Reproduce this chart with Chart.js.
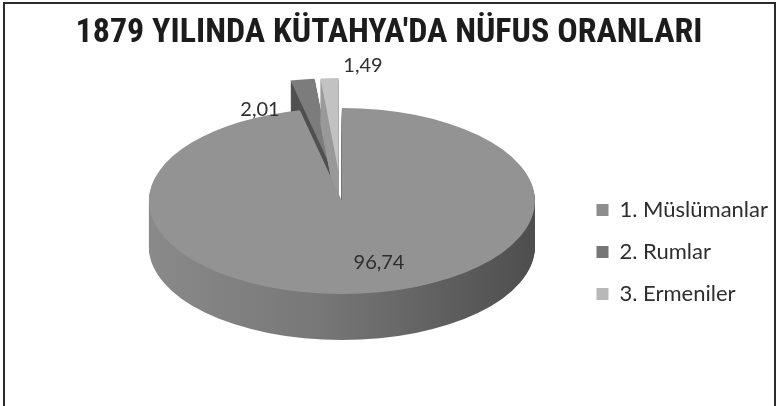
<!DOCTYPE html>
<html><head><meta charset="utf-8">
<script src="https://cdn.jsdelivr.net/npm/chart.js@4/dist/chart.umd.min.js"></script>
<style>html,body{margin:0;padding:0;background:#fff}#wrap{width:778px;height:406px;overflow:hidden}</style>
</head><body><div id="wrap"><canvas id="c" width="778" height="406"></canvas></div>
<script>
// ---- data ----
const titleText = "1879 YILINDA KÜTAHYA'DA NÜFUS ORANLARI";
const categories = ['1. Müslümanlar', '2. Rumlar', '3. Ermeniler'];
const values = [96.74, 2.01, 1.49];
const valueLabels = ['96,74', '2,01', '1,49'];

// ---- styles ----
const legendColors = ['#8d8d8d', '#767676', '#b8b8b8'];
const topColors = ['#939393', '#7c7c7c', '#c2c2c2'];
const sideColors = [null, '#505050', '#9a9a9a'];
const explodePx = [4, 26, 26];
const labelOffsets = [[38, 66], [-81, -87], [22, -131]];
const P3D = { cx: 341, cy: 197, rx: 193, ry: 93, depth: 46 };

function slicePath(ctx, a, i, tx, ty) {
  const mid = (a.startAngle + a.endAngle) / 2;
  const e = explodePx[i];
  const c = { x: P3D.cx + Math.cos(mid) * e * (P3D.rx / P3D.ry) + tx, y: P3D.cy + Math.sin(mid) * e + ty };
  ctx.beginPath();
  ctx.moveTo(c.x, c.y);
  ctx.ellipse(c.x, c.y, P3D.rx, P3D.ry, 0, a.startAngle, a.endAngle);
  ctx.closePath();
}

const pie3dPlugin = {
  id: 'pie3d',
  beforeDraw(chart) {
    const ctx = chart.ctx;
    ctx.save();
    ctx.strokeStyle = '#2b2b2b';
    ctx.lineWidth = 2;
    ctx.strokeRect(4, 3, 771, 430);
    ctx.restore();
  },
  beforeDatasetsDraw(chart) {
    const ctx = chart.ctx;
    const arcs = chart.getDatasetMeta(0).data;
    ctx.save();
    const grad = ctx.createLinearGradient(P3D.cx - P3D.rx, 0, P3D.cx + P3D.rx, 0);
    grad.addColorStop(0, '#8a8a8a');
    grad.addColorStop(0.45, '#777777');
    grad.addColorStop(1, '#4e4e4e');
    for (let t = P3D.depth; t >= 1; t--) {
      slicePath(ctx, arcs[0], 0, 0, t);
      ctx.fillStyle = grad;
      ctx.fill();
    }
    for (let i = 1; i < arcs.length; i++) {
      for (let t = P3D.depth; t >= 1; t--) {
        slicePath(ctx, arcs[i], i, 0, t);
        ctx.fillStyle = sideColors[i];
        ctx.fill();
      }
      slicePath(ctx, arcs[i], i, 0, 0);
      ctx.fillStyle = topColors[i];
      ctx.fill();
    }
    slicePath(ctx, arcs[0], 0, 0, 0);
    ctx.fillStyle = topColors[0];
    ctx.fill();
    ctx.restore();
    return false;
  },
  afterDraw(chart) {
    const ctx = chart.ctx;
    ctx.save();
    ctx.font = '20px Lato';
    ctx.fillStyle = '#2e2e2e';
    ctx.textAlign = 'center';
    ctx.textBaseline = 'middle';
    valueLabels.forEach((t, i) => {
      ctx.fillText(t, P3D.cx + labelOffsets[i][0], P3D.cy + labelOffsets[i][1]);
    });
    ctx.restore();
  }
};

new Chart(document.getElementById('c'), {
  type: 'pie',
  data: {
    labels: categories,
    datasets: [{ data: values, backgroundColor: legendColors, borderWidth: 0 }]
  },
  options: {
    responsive: false,
    animation: false,
    layout: { padding: { left: 0, right: 0, top: 0, bottom: 0 } },
    plugins: {
      title: {
        display: true, text: titleText, color: '#1c1c1c',
        font: { family: "'Liberation Sans Narrow', 'Roboto Condensed', 'Noto Sans'", size: 34, weight: 'bold' },
        padding: { top: 13, bottom: 44 }
      },
      legend: {
        position: 'right',
        fullSize: false,
        labels: { boxWidth: 12, boxHeight: 12, color: '#2e2e2e', font: { family: 'Lato', size: 22 }, padding: 20 }
      },
      tooltip: { enabled: false }
    }
  },
  plugins: [pie3dPlugin]
});
</script>
</body></html>
